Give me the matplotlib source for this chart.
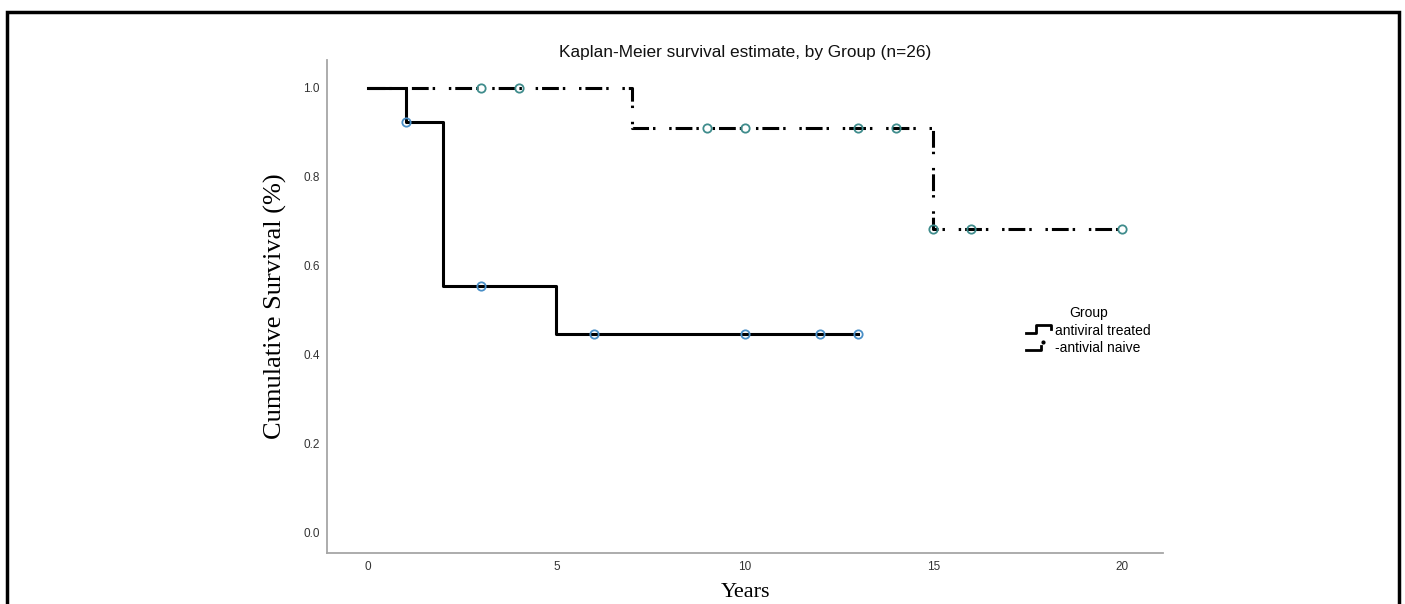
import matplotlib
matplotlib.use('Agg')
import matplotlib.pyplot as plt
from matplotlib.lines import Line2D
from matplotlib.patches import Rectangle
from matplotlib.legend_handler import HandlerBase

# --- data ---
treated_t = [0, 1, 2, 5, 13]
treated_s = [1.0, 0.923, 0.554, 0.446, 0.446]
treated_cens_t = [1, 3, 6, 10, 12, 13]
treated_cens_s = [0.923, 0.554, 0.446, 0.446, 0.446, 0.446]

naive_t = [0, 7, 15, 20]
naive_s = [1.0, 0.909, 0.682, 0.682]
naive_cens_t = [3, 4, 9, 10, 13, 14, 15, 16, 20]
naive_cens_s = [1.0, 1.0, 0.909, 0.909, 0.909, 0.909, 0.682, 0.682, 0.682]

x_ticks = [0, 5, 10, 15, 20]
y_ticks = [0.0, 0.2, 0.4, 0.6, 0.8, 1.0]
group_labels = ['antiviral treated', '-antivial naive']

plt.rcParams['font.family'] = ['Liberation Sans', 'DejaVu Sans']

dashdot = (0, (5.5, 1.3, 0.8, 4.5, 0.8, 1.3))


# little step-shaped legend keys, like the SPSS output
class StepKey(HandlerBase):
    def __init__(self, kind):
        super().__init__()
        self.kind = kind

    def create_artists(self, legend, orig_handle, xd, yd, width, height, fontsize, trans):
        lo, hi = yd + 0.1 * height, yd + 0.85 * height
        if self.kind == 'solid':
            xs = [xd, xd + 0.4 * width, xd + 0.4 * width, xd + width, xd + width]
            ys = [lo, lo, hi, hi, hi - 0.4 * height]
            return [Line2D(xs, ys, color='black', lw=2.0, transform=trans)]
        base = Line2D([xd, xd + 0.6 * width, xd + 0.6 * width], [lo, lo, lo + 0.45 * height],
                      color='black', lw=2.0, transform=trans)
        dot = Line2D([xd + 0.68 * width], [hi], marker='o', ms=2, color='black', transform=trans)
        return [base, dot]


fig = plt.figure(figsize=(14.05, 6.04), dpi=100)
ax = fig.add_axes([0.2327, 0.0844, 0.5951, 0.8163])

ax.step(treated_t, treated_s, where='post', color='black', lw=2.2, zorder=3)
ax.step(naive_t, naive_s, where='post', color='black', lw=2.2, linestyle=dashdot, zorder=3)
ax.plot(treated_cens_t, treated_cens_s, 'o', ms=6, mfc='none', mec='#4a8fc7', mew=1.3, zorder=4)
ax.plot(naive_cens_t, naive_cens_s, 'o', ms=6, mfc='none', mec='#3f8c8c', mew=1.3, zorder=4)

ax.set_xlim(-1.09, 21.1)
ax.set_ylim(-0.047, 1.063)
ax.set_xticks(x_ticks)
ax.set_yticks(y_ticks)
ax.set_yticklabels([f'{v:.1f}' for v in y_ticks])
ax.tick_params(length=0, labelsize=8.5, colors='#333333')
ax.tick_params(axis='y', pad=5)
ax.tick_params(axis='x', pad=6)
for s in ['top', 'right']:
    ax.spines[s].set_visible(False)
for s in ['left', 'bottom']:
    ax.spines[s].set_color('#a6a6a6')
    ax.spines[s].set_linewidth(1.3)

ax.set_title('Kaplan-Meier survival estimate, by Group (n=26)', fontsize=12.4, pad=0,
             color='#111111')
ax.set_ylabel('Cumulative Survival (%)', family='Liberation Serif', fontsize=19, labelpad=12)
ax.set_xlabel('Years', family='Liberation Serif', fontsize=16, labelpad=7)

h1 = Line2D([], [], color='black')
h2 = Line2D([], [], color='black', linestyle=dashdot)
ax.legend([h1, h2], group_labels, title='Group',
          handler_map={h1: StepKey('solid'), h2: StepKey('dash')},
          loc='upper left', bbox_to_anchor=(0.828, 0.515), frameon=False,
          fontsize=10, title_fontsize=10, handlelength=1.8, handleheight=0.8,
          handletextpad=0.25, labelspacing=0.25, borderpad=0)

# outer frame of the figure
fig.patches.append(Rectangle((0.005, -0.05), 0.9905, 1.03, transform=fig.transFigure,
                             fill=False, edgecolor='black', lw=2.5))

fig.savefig('out.png', dpi=100)
